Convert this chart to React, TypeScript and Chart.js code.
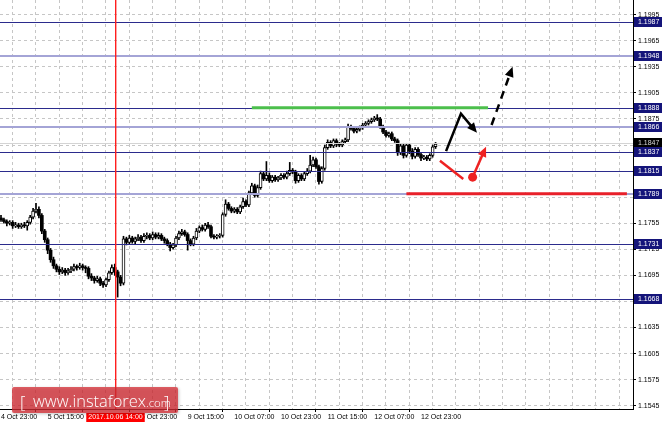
import React, { useEffect, useRef } from 'react';
import { Chart, registerables } from 'chart.js';

Chart.register(...registerables);

// ---------------- data ----------------
const xTickLabels = ['4 Oct 23:00', '5 Oct 15:00', '6 Oct 07:00', '6 Oct 23:00', '9 Oct 15:00', '10 Oct 07:00', '10 Oct 23:00', '11 Oct 15:00', '12 Oct 07:00', '12 Oct 23:00'];
const yTickValues = [1.1545, 1.1575, 1.1605, 1.1635, 1.1665, 1.1695, 1.1725, 1.1755, 1.1785, 1.1815, 1.1845, 1.1875, 1.1905, 1.1935, 1.1965, 1.1995];
const majorLevels = [1.1987, 1.1888, 1.1837, 1.1815, 1.1731, 1.1668];
const minorLevels = [1.1948, 1.1866, 1.1789];
const bidPrice = 1.1847;
const crosshairIndex = 39;
const crosshairLabel = '2017.10.06 14:00';
const logoMain = 'www.instaforex';
const logoTail = '.com';

const opens = [1.1761, 1.1759, 1.1757, 1.1755, 1.1756, 1.1752, 1.1753, 1.1751, 1.1753, 1.1752,
  1.1756, 1.1762, 1.1769, 1.1771, 1.1764, 1.1746, 1.1736, 1.1724, 1.1713, 1.1706,
  1.1702, 1.1699, 1.1701, 1.1698, 1.1700, 1.1702, 1.1705, 1.1704, 1.1706, 1.1704,
  1.1703, 1.1694, 1.1692, 1.1689, 1.1691, 1.1686, 1.1684, 1.1690, 1.1698, 1.1704,
  1.1699, 1.1693, 1.1686, 1.1737, 1.1733, 1.1738, 1.1734, 1.1737, 1.1739, 1.1735,
  1.1740, 1.1741, 1.1738, 1.1742, 1.1739, 1.1741, 1.1737, 1.1735, 1.1731, 1.1727,
  1.1730, 1.1738, 1.1743, 1.1745, 1.1742, 1.1735, 1.1731, 1.1738, 1.1746, 1.1750,
  1.1748, 1.1753, 1.1751, 1.1740, 1.1739, 1.1740, 1.1741, 1.1765, 1.1777, 1.1772,
  1.1769, 1.1771, 1.1768, 1.1774, 1.1780, 1.1776, 1.1790, 1.1798, 1.1787, 1.1796,
  1.1812, 1.1806, 1.1810, 1.1804, 1.1808, 1.1805, 1.1807, 1.1810, 1.1808, 1.1812,
  1.1816, 1.1814, 1.1804, 1.1810, 1.1806, 1.1812, 1.1815, 1.1822, 1.1828, 1.1820,
  1.1803, 1.1818, 1.1842, 1.1848, 1.1844, 1.1850, 1.1846, 1.1845, 1.1849, 1.1851,
  1.1866, 1.1864, 1.1861, 1.1863, 1.1865, 1.1868, 1.1870, 1.1872, 1.1874, 1.1876,
  1.1875, 1.1866, 1.1860, 1.1856, 1.1858, 1.1852, 1.1850, 1.1836, 1.1844, 1.1833,
  1.1845, 1.1838, 1.1832, 1.1840, 1.1834, 1.1830, 1.1831, 1.1829, 1.1833, 1.1843];

const highs = [1.1764, 1.1761, 1.1759, 1.1758, 1.1758, 1.1756, 1.1755, 1.1755, 1.1756, 1.1758,
  1.1764, 1.1772, 1.1778, 1.1774, 1.1766, 1.1748, 1.1738, 1.1726, 1.1716, 1.1708,
  1.1705, 1.1704, 1.1703, 1.1703, 1.1705, 1.1708, 1.1707, 1.1709, 1.1708, 1.1706,
  1.1705, 1.1697, 1.1694, 1.1694, 1.1693, 1.1688, 1.1692, 1.1700, 1.1707, 1.1708,
  1.1701, 1.1695, 1.1740, 1.1739, 1.1741, 1.1740, 1.1739, 1.1742, 1.1741, 1.1743,
  1.1744, 1.1743, 1.1745, 1.1744, 1.1744, 1.1743, 1.1739, 1.1737, 1.1733, 1.1732,
  1.1740, 1.1746, 1.1748, 1.1747, 1.1744, 1.1737, 1.1740, 1.1749, 1.1752, 1.1753,
  1.1755, 1.1756, 1.1753, 1.1742, 1.1742, 1.1743, 1.1767, 1.1782, 1.1779, 1.1774,
  1.1773, 1.1773, 1.1776, 1.1784, 1.1782, 1.1792, 1.1801, 1.1800, 1.1799, 1.1815,
  1.1814, 1.1826, 1.1813, 1.1810, 1.1810, 1.1809, 1.1812, 1.1812, 1.1815, 1.1825,
  1.1818, 1.1816, 1.1812, 1.1812, 1.1814, 1.1818, 1.1833, 1.1831, 1.1830, 1.1822,
  1.1820, 1.1845, 1.1851, 1.1850, 1.1852, 1.1852, 1.1848, 1.1851, 1.1853, 1.1869,
  1.1868, 1.1866, 1.1865, 1.1867, 1.1870, 1.1872, 1.1874, 1.1876, 1.1878, 1.1880,
  1.1877, 1.1868, 1.1862, 1.1860, 1.1860, 1.1854, 1.1852, 1.1846, 1.1847, 1.1847,
  1.1847, 1.1841, 1.1842, 1.1842, 1.1836, 1.1833, 1.1833, 1.1835, 1.1845, 1.1848];

const lows = [1.1757, 1.1755, 1.1752, 1.1753, 1.1749, 1.1750, 1.1749, 1.1749, 1.1750, 1.1747,
  1.1754, 1.1760, 1.1767, 1.1761, 1.1743, 1.1733, 1.1720, 1.1710, 1.1703, 1.1699,
  1.1696, 1.1697, 1.1695, 1.1696, 1.1698, 1.1700, 1.1701, 1.1702, 1.1701, 1.1698,
  1.1691, 1.1689, 1.1686, 1.1687, 1.1683, 1.1681, 1.1682, 1.1688, 1.1696, 1.1695,
  1.1670, 1.1683, 1.1684, 1.1730, 1.1731, 1.1732, 1.1731, 1.1735, 1.1733, 1.1733,
  1.1737, 1.1736, 1.1736, 1.1737, 1.1737, 1.1735, 1.1732, 1.1729, 1.1723, 1.1725,
  1.1728, 1.1736, 1.1741, 1.1740, 1.1724, 1.1729, 1.1729, 1.1736, 1.1744, 1.1746,
  1.1746, 1.1749, 1.1738, 1.1737, 1.1737, 1.1738, 1.1739, 1.1763, 1.1770, 1.1767,
  1.1767, 1.1766, 1.1766, 1.1772, 1.1774, 1.1774, 1.1788, 1.1785, 1.1785, 1.1794,
  1.1804, 1.1804, 1.1802, 1.1802, 1.1803, 1.1803, 1.1805, 1.1806, 1.1806, 1.1810,
  1.1812, 1.1801, 1.1802, 1.1804, 1.1804, 1.1810, 1.1813, 1.1820, 1.1818, 1.1800,
  1.1801, 1.1816, 1.1840, 1.1842, 1.1842, 1.1843, 1.1843, 1.1843, 1.1847, 1.1849,
  1.1862, 1.1859, 1.1859, 1.1861, 1.1863, 1.1866, 1.1868, 1.1870, 1.1872, 1.1873,
  1.1864, 1.1858, 1.1854, 1.1854, 1.1850, 1.1848, 1.1833, 1.1834, 1.1830, 1.1831,
  1.1835, 1.1829, 1.1830, 1.1832, 1.1827, 1.1828, 1.1827, 1.1827, 1.1831, 1.1841];

const closes = [1.1759, 1.1757, 1.1755, 1.1756, 1.1752, 1.1753, 1.1751, 1.1753, 1.1752, 1.1756,
  1.1762, 1.1769, 1.1771, 1.1764, 1.1746, 1.1736, 1.1724, 1.1713, 1.1706, 1.1702,
  1.1699, 1.1701, 1.1698, 1.1700, 1.1702, 1.1705, 1.1704, 1.1706, 1.1704, 1.1703,
  1.1694, 1.1692, 1.1689, 1.1691, 1.1686, 1.1684, 1.1690, 1.1698, 1.1704, 1.1699,
  1.1693, 1.1686, 1.1737, 1.1733, 1.1738, 1.1734, 1.1737, 1.1739, 1.1735, 1.1740,
  1.1741, 1.1738, 1.1742, 1.1739, 1.1741, 1.1737, 1.1735, 1.1731, 1.1727, 1.1730,
  1.1738, 1.1743, 1.1745, 1.1742, 1.1735, 1.1731, 1.1738, 1.1746, 1.1750, 1.1748,
  1.1753, 1.1751, 1.1740, 1.1739, 1.1740, 1.1741, 1.1765, 1.1777, 1.1772, 1.1769,
  1.1771, 1.1768, 1.1774, 1.1780, 1.1776, 1.1790, 1.1798, 1.1787, 1.1796, 1.1812,
  1.1806, 1.1810, 1.1804, 1.1808, 1.1805, 1.1807, 1.1810, 1.1808, 1.1812, 1.1816,
  1.1814, 1.1804, 1.1810, 1.1806, 1.1812, 1.1815, 1.1822, 1.1828, 1.1820, 1.1803,
  1.1818, 1.1842, 1.1848, 1.1844, 1.1850, 1.1846, 1.1845, 1.1849, 1.1851, 1.1866,
  1.1864, 1.1861, 1.1863, 1.1865, 1.1868, 1.1870, 1.1872, 1.1874, 1.1876, 1.1875,
  1.1866, 1.1860, 1.1856, 1.1858, 1.1852, 1.1850, 1.1836, 1.1844, 1.1833, 1.1845,
  1.1838, 1.1832, 1.1840, 1.1834, 1.1830, 1.1831, 1.1829, 1.1833, 1.1843, 1.1846];

// annotations, in (bar index, price)
const resistanceLine = [[86, 1.1888], [167, 1.1888]];
const supportLine = [[139, 1.1789], [214.6, 1.1789]];
const bullPath = [[152.6, 1.1838], [157.7, 1.1881], [163.2, 1.1859]];
const bullBreakout = [[168.2, 1.1868], [175.4, 1.1935]];
const bearPath = [[150.5, 1.1827], [158.5, 1.1806]];
const bearDot = [161.7, 1.1808];
const bearRebound = [[161.7, 1.1808], [166.3, 1.1843]];

// ---------------- layout / style ----------------
const W = 664;
const H = 425;
const X_MIN = -0.343;
const X_MAX = 216.69;
const Y_MIN = 1.15412;
const Y_MAX = 1.20119;
const BARS_PER_LABEL = 16;
const BARS_PER_GRID = 8;
const AXIS_FONT = { family: '"Liberation Sans", Arial, sans-serif', size: 7 };
const AXIS_FONT_CSS = '7px "Liberation Sans", Arial, sans-serif';

function arrowHead(ctx: CanvasRenderingContext2D, x1: number, y1: number, x2: number, y2: number, len: number, wid: number) {
  const a = Math.atan2(y2 - y1, x2 - x1);
  const bx = x2 - len * Math.cos(a);
  const by = y2 - len * Math.sin(a);
  ctx.beginPath();
  ctx.moveTo(x2, y2);
  ctx.lineTo(bx + (wid / 2) * Math.sin(a), by - (wid / 2) * Math.cos(a));
  ctx.lineTo(bx - (wid / 2) * Math.sin(a), by + (wid / 2) * Math.cos(a));
  ctx.closePath();
  ctx.fill();
  return [bx + 1.5 * Math.cos(a), by + 1.5 * Math.sin(a)];
}

const overlayPlugin = {
  id: 'overlay',
  afterDatasetsDraw(chart: any) {
    const { ctx, chartArea: a, scales } = chart;
    const px = (i: number) => scales.x.getPixelForValue(i);
    const py = (v: number) => scales.y.getPixelForValue(v);
    ctx.save();
    ctx.beginPath();
    ctx.rect(a.left, a.top, a.right - a.left, a.bottom - a.top);
    ctx.clip();

    const hline = (v: number, color: string, w: number) => {
      const y = Math.round(py(v)) + (w % 2 ? 0.5 : 0);
      ctx.strokeStyle = color;
      ctx.lineWidth = w;
      ctx.beginPath();
      ctx.moveTo(a.left, y);
      ctx.lineTo(a.right, y);
      ctx.stroke();
    };
    hline(bidPrice, '#d4d4d4', 1);
    minorLevels.forEach((v) => hline(v, '#a4a4d6', 2));
    majorLevels.forEach((v) => hline(v, '#2b2b8c', 1));

    const seg = (pts: number[][], color: string, w: number) => {
      ctx.strokeStyle = color;
      ctx.lineWidth = w;
      ctx.beginPath();
      pts.forEach((p, k) => (k ? ctx.lineTo(px(p[0]), py(p[1])) : ctx.moveTo(px(p[0]), py(p[1]))));
      ctx.stroke();
    };
    seg(resistanceLine, '#4cbf4c', 3);
    seg(supportLine, '#e8202a', 3);

    const arrow = (pts: number[][], color: string, dash: number[]) => {
      const P = pts.map((p) => [px(p[0]), py(p[1])]);
      ctx.fillStyle = color;
      const n = P.length;
      const base = arrowHead(ctx, P[n - 2][0], P[n - 2][1], P[n - 1][0], P[n - 1][1], 10, 9);
      ctx.strokeStyle = color;
      ctx.lineWidth = 2.5;
      ctx.lineJoin = 'miter';
      ctx.setLineDash(dash);
      ctx.beginPath();
      P.forEach((p, k) => {
        const q = k === n - 1 ? base : p;
        if (k) ctx.lineTo(q[0], q[1]);
        else ctx.moveTo(q[0], q[1]);
      });
      ctx.stroke();
      ctx.setLineDash([]);
    };
    seg(bearPath, '#ee2222', 2.5);
    arrow(bearRebound, '#ee2222', []);
    ctx.fillStyle = '#ee2222';
    ctx.beginPath();
    ctx.arc(px(bearDot[0]), py(bearDot[1]), 4.5, 0, Math.PI * 2);
    ctx.fill();
    arrow(bullPath, '#000000', []);
    arrow(bullBreakout, '#000000', [8, 6]);
    ctx.restore();
  },
  afterDraw(chart: any) {
    const { ctx, chartArea: a, scales } = chart;
    const px = (i: number) => scales.x.getPixelForValue(i);
    const py = (v: number) => scales.y.getPixelForValue(v);
    ctx.save();

    // crosshair (vertical time cursor)
    const cx = Math.round(px(crosshairIndex));
    ctx.fillStyle = '#ff1e1e';
    ctx.fillRect(cx, a.top, 1.4, a.bottom - a.top);

    ctx.font = AXIS_FONT_CSS;
    ctx.textBaseline = 'middle';
    ctx.textAlign = 'left';
    const box = (v: number, bg: string, fg: string) => {
      const y = Math.round(py(v));
      ctx.fillStyle = bg;
      ctx.fillRect(a.right + 1, y - 5, chart.width - a.right - 3, 10);
      ctx.fillStyle = fg;
      ctx.fillText(v.toFixed(4), a.right + 5, y + 0.5);
    };
    box(bidPrice, '#000000', '#d8d8d8');
    [...minorLevels, ...majorLevels].forEach((v) => box(v, '#14147a', '#ffffff'));

    // crosshair time label
    const tw = ctx.measureText(crosshairLabel).width + 4;
    ctx.fillStyle = '#ff0000';
    ctx.fillRect(cx + 0.5 - tw / 2, a.bottom + 4, tw, 9);
    ctx.fillStyle = '#ffffff';
    ctx.textAlign = 'center';
    ctx.fillText(crosshairLabel, cx + 0.5, a.bottom + 8.5);

    // logo
    const lx = 12, ly = 387, lw = 166, lh = 26;
    ctx.save();
    ctx.shadowColor = 'rgba(0,0,0,0.3)';
    ctx.shadowBlur = 3;
    ctx.shadowOffsetX = 1;
    ctx.shadowOffsetY = 1;
    ctx.fillStyle = 'rgba(214, 43, 51, 0.75)';
    ctx.beginPath();
    ctx.roundRect(lx, ly, lw, lh, 2);
    ctx.fill();
    ctx.restore();
    ctx.fillStyle = '#ffffff';
    ctx.textAlign = 'left';
    ctx.textBaseline = 'alphabetic';
    ctx.font = '300 17px "Open Sans", sans-serif';
    const m17 = ctx.measureText(logoMain).width;
    const fs = (17 * 113) / m17;
    ctx.font = `300 ${fs}px "Open Sans", sans-serif`;
    ctx.fillText(logoMain, 33, 407);
    const mw = ctx.measureText(logoMain).width;
    ctx.font = '300 17px "Open Sans", sans-serif';
    ctx.fillText('[', 20, 408);
    ctx.fillText(']', 164, 408);
    ctx.font = '300 11.5px "Open Sans", sans-serif';
    ctx.fillText(logoTail, 33 + mw, 407);
    ctx.restore();
  },
};

export default function App() {
  const ref = useRef<HTMLCanvasElement>(null);
  useEffect(() => {
    const idx = closes.map((_, i) => i);
    const chart = new Chart(ref.current as HTMLCanvasElement, {
      type: 'bar',
      data: {
        datasets: [
          {
            label: 'body',
            data: idx.map((i) => ({ x: i, y: [opens[i], closes[i]] })) as any,
            grouped: false,
            barThickness: 3,
            minBarLength: 1,
            borderSkipped: false,
            backgroundColor: (c: any) => (closes[c.dataIndex] >= opens[c.dataIndex] ? '#ffffff' : '#000000'),
            borderColor: '#000000',
            borderWidth: (c: any) => (closes[c.dataIndex] >= opens[c.dataIndex] ? 1 : 0),
          } as any,
          {
            label: 'wick',
            data: idx.map((i) => ({ x: i, y: [lows[i], highs[i]] })) as any,
            grouped: false,
            barThickness: 1,
            backgroundColor: '#000000',
            borderWidth: 0,
          } as any,
        ],
      },
      options: {
        animation: false,
        responsive: false,
        devicePixelRatio: 1,
        events: [],
        layout: { padding: 0 },
        plugins: { legend: { display: false }, tooltip: { enabled: false }, title: { display: false } },
        scales: {
          x: {
            type: 'linear',
            min: X_MIN,
            max: X_MAX,
            offset: false,
            afterBuildTicks: (s: any) => {
              const t = [];
              for (let v = 0; v <= X_MAX; v += BARS_PER_GRID) t.push({ value: v });
              s.ticks = t;
            },
            afterFit: (s: any) => {
              s.height = 16;
              s.paddingLeft = 0;
              s.paddingRight = 0;
            },
            grid: {
              color: '#c6c6c6',
              lineWidth: 1,
              drawTicks: true,
              tickLength: 3,
              tickColor: (c: any) =>
                c.tick && c.tick.value % BARS_PER_LABEL === 0 && c.tick.value / BARS_PER_LABEL < xTickLabels.length ? '#000000' : 'rgba(0,0,0,0)',
            },
            border: { display: true, color: '#000000', width: 1, dash: [3, 3] },
            ticks: {
              autoSkip: false,
              maxRotation: 0,
              minRotation: 0,
              align: 'start',
              padding: 1,
              color: '#000000',
              font: AXIS_FONT,
              callback: (v: any) => (v % BARS_PER_LABEL === 0 ? xTickLabels[v / BARS_PER_LABEL] ?? '' : ''),
            },
          },
          y: {
            type: 'linear',
            position: 'right',
            min: Y_MIN,
            max: Y_MAX,
            afterBuildTicks: (s: any) => {
              s.ticks = yTickValues.map((v) => ({ value: v }));
            },
            afterFit: (s: any) => {
              s.width = 31;
              s.paddingTop = 0;
              s.paddingBottom = 0;
            },
            grid: { color: '#c6c6c6', lineWidth: 1, tickLength: 3, tickColor: '#000000' },
            border: { display: true, color: '#000000', width: 1, dash: [3, 3] },
            ticks: {
              autoSkip: false,
              padding: 2,
              color: '#000000',
              font: AXIS_FONT,
              callback: (v: any) => Number(v).toFixed(4),
            },
          },
        },
      } as any,
      plugins: [overlayPlugin],
    });
    return () => chart.destroy();
  }, []);
  return (
    <div style={{ position: 'fixed', left: 0, top: 0, width: W, height: H, background: '#ffffff' }}>
      <canvas ref={ref} width={W} height={H} style={{ display: 'block', width: W, height: H }} />
    </div>
  );
}
